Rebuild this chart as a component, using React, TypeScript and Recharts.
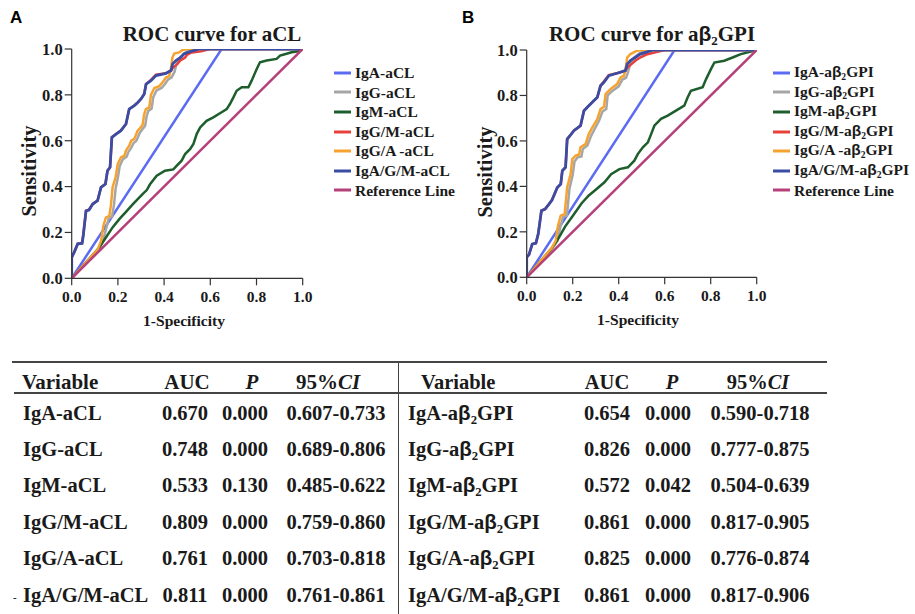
import React from "react";
import { Line, LineChart, XAxis, YAxis } from "recharts";

type Pt = [number, number];

const axisTicks = [0, 0.2, 0.4, 0.6, 0.8, 1.0];

const seriesColors = ["#5c6cf2", "#a6a6a6", "#1d5e2c", "#e8403a", "#f5a230", "#3a4ca3", "#b5407a"];
const aclNames = ["IgA-aCL", "IgG-aCL", "IgM-aCL", "IgG/M-aCL", "IgG/A -aCL", "IgA/G/M-aCL", "Reference Line"];
const gpiPrefixes = ["IgA-a", "IgG-a", "IgM-a", "IgG/M-a", "IgG/A -a", "IgA/G/M-a"];

// ---- panel A: aCL (x = 1-specificity, y = sensitivity)
const aclIgA: Pt[] = [[0, 0], [0.649, 1], [1, 1]];
const aclIgG: Pt[] = [
  [0, 0], [0.115, 0.125], [0.135, 0.16], [0.15, 0.22], [0.16, 0.26], [0.175, 0.27], [0.183, 0.32],
  [0.19, 0.39], [0.2, 0.44], [0.208, 0.49], [0.222, 0.52], [0.238, 0.53], [0.245, 0.55], [0.258, 0.57],
  [0.268, 0.59], [0.28, 0.6], [0.295, 0.635], [0.31, 0.655], [0.318, 0.665], [0.325, 0.71], [0.332, 0.73],
  [0.346, 0.74], [0.353, 0.79], [0.368, 0.82], [0.389, 0.83], [0.403, 0.846], [0.418, 0.868], [0.432, 0.875],
  [0.445, 0.9], [0.455, 0.94], [0.466, 0.96], [0.48, 0.975], [0.5, 0.99], [0.52, 1], [1, 1],
];
const aclIgM: Pt[] = [
  [0, 0], [0.12, 0.135], [0.148, 0.178], [0.177, 0.222], [0.206, 0.258], [0.235, 0.29], [0.264, 0.322],
  [0.29, 0.35], [0.31, 0.37], [0.325, 0.385], [0.339, 0.41], [0.368, 0.447], [0.404, 0.469], [0.44, 0.475],
  [0.455, 0.491], [0.476, 0.513], [0.491, 0.542], [0.513, 0.564], [0.527, 0.586], [0.541, 0.629],
  [0.556, 0.658], [0.584, 0.687], [0.613, 0.702], [0.649, 0.724], [0.671, 0.738], [0.685, 0.76],
  [0.7, 0.789], [0.714, 0.818], [0.736, 0.833], [0.765, 0.833], [0.779, 0.862], [0.801, 0.913],
  [0.815, 0.942], [0.844, 0.95], [0.887, 0.957], [0.902, 0.971], [0.93, 0.979], [0.952, 0.986],
  [0.981, 0.99], [1, 1],
];
const aclIgGM: Pt[] = [
  [0, 0], [0, 0.09], [0.011, 0.114], [0.026, 0.15], [0.045, 0.155], [0.05, 0.19], [0.062, 0.294],
  [0.075, 0.3], [0.091, 0.324], [0.112, 0.339], [0.127, 0.397], [0.146, 0.411], [0.155, 0.469],
  [0.166, 0.484], [0.174, 0.615], [0.192, 0.629], [0.213, 0.644], [0.235, 0.673], [0.249, 0.738],
  [0.271, 0.753], [0.286, 0.767], [0.3, 0.782], [0.314, 0.804], [0.322, 0.847], [0.343, 0.865],
  [0.365, 0.888], [0.408, 0.894], [0.43, 0.906], [0.44, 0.92], [0.458, 0.935], [0.47, 0.95],
  [0.49, 0.962], [0.5, 0.975], [0.52, 0.985], [0.56, 0.99], [0.6, 1], [1, 1],
];
const aclIgGA: Pt[] = [
  [0, 0], [0.112, 0.125], [0.127, 0.163], [0.137, 0.229], [0.148, 0.265], [0.163, 0.272], [0.17, 0.32],
  [0.177, 0.397], [0.19, 0.44], [0.199, 0.498], [0.213, 0.527], [0.228, 0.535], [0.235, 0.557],
  [0.249, 0.578], [0.258, 0.6], [0.271, 0.608], [0.285, 0.643], [0.3, 0.66], [0.307, 0.67],
  [0.314, 0.716], [0.321, 0.738], [0.336, 0.745], [0.343, 0.8], [0.358, 0.83], [0.379, 0.838],
  [0.393, 0.854], [0.408, 0.876], [0.422, 0.882], [0.429, 0.91], [0.436, 0.963], [0.444, 0.98],
  [0.465, 0.985], [0.48, 0.996], [0.5, 1], [1, 1],
];
const aclIgAGM: Pt[] = [
  [0, 0], [0, 0.092], [0.011, 0.114], [0.026, 0.15], [0.045, 0.152], [0.05, 0.185], [0.062, 0.294],
  [0.075, 0.298], [0.091, 0.324], [0.112, 0.339], [0.127, 0.397], [0.146, 0.411], [0.155, 0.469],
  [0.166, 0.484], [0.174, 0.615], [0.192, 0.629], [0.213, 0.644], [0.235, 0.673], [0.249, 0.738],
  [0.271, 0.753], [0.286, 0.767], [0.3, 0.782], [0.314, 0.804], [0.322, 0.847], [0.343, 0.862],
  [0.365, 0.884], [0.408, 0.894], [0.43, 0.906], [0.437, 0.935], [0.451, 0.95], [0.473, 0.964],
  [0.487, 0.979], [0.516, 0.99], [0.538, 0.996], [0.55, 1], [1, 1],
];
const refLine: Pt[] = [[0, 0], [1, 1]];

// ---- panel B: aβ2GPI
const gpiIgA: Pt[] = [[0, 0], [0.643, 1], [1, 1]];
const gpiIgG: Pt[] = [
  [0, 0], [0.114, 0.13], [0.134, 0.16], [0.146, 0.22], [0.158, 0.265], [0.175, 0.272], [0.186, 0.39],
  [0.2, 0.45], [0.208, 0.51], [0.222, 0.528], [0.238, 0.532], [0.244, 0.565], [0.264, 0.58],
  [0.28, 0.622], [0.295, 0.652], [0.315, 0.69], [0.33, 0.73], [0.346, 0.74], [0.352, 0.8],
  [0.372, 0.82], [0.4, 0.84], [0.416, 0.87], [0.432, 0.878], [0.44, 0.9], [0.452, 0.945],
  [0.466, 0.965], [0.49, 0.985], [0.52, 1], [1, 1],
];
const gpiIgM: Pt[] = [
  [0, 0], [0.109, 0.128], [0.14, 0.175], [0.167, 0.223], [0.2, 0.27], [0.239, 0.326], [0.27, 0.36],
  [0.3, 0.385], [0.338, 0.418], [0.367, 0.454], [0.403, 0.476], [0.44, 0.484], [0.468, 0.513],
  [0.483, 0.542], [0.505, 0.572], [0.527, 0.594], [0.541, 0.63], [0.555, 0.667], [0.584, 0.697],
  [0.613, 0.711], [0.649, 0.733], [0.685, 0.755], [0.7, 0.792], [0.714, 0.821], [0.765, 0.836],
  [0.78, 0.872], [0.801, 0.916], [0.816, 0.945], [0.859, 0.953], [0.895, 0.967], [0.931, 0.982],
  [0.975, 0.993], [1, 1],
];
const gpiIgGM: Pt[] = [
  [0, 0], [0, 0.088], [0.01, 0.1], [0.024, 0.146], [0.04, 0.15], [0.05, 0.19], [0.064, 0.293],
  [0.08, 0.3], [0.097, 0.322], [0.11, 0.34], [0.133, 0.395], [0.148, 0.41], [0.155, 0.469],
  [0.169, 0.484], [0.176, 0.608], [0.19, 0.625], [0.205, 0.645], [0.234, 0.667], [0.249, 0.733],
  [0.27, 0.755], [0.285, 0.77], [0.307, 0.792], [0.321, 0.843], [0.336, 0.862], [0.357, 0.89],
  [0.4, 0.9], [0.429, 0.909], [0.44, 0.925], [0.458, 0.94], [0.475, 0.955], [0.495, 0.968],
  [0.52, 0.98], [0.56, 0.99], [0.6, 1], [1, 1],
];
const gpiIgGA: Pt[] = [
  [0, 0], [0.111, 0.132], [0.126, 0.161], [0.136, 0.227], [0.148, 0.271], [0.165, 0.278],
  [0.176, 0.396], [0.191, 0.454], [0.198, 0.52], [0.213, 0.535], [0.228, 0.54], [0.234, 0.572],
  [0.256, 0.586], [0.27, 0.63], [0.285, 0.659], [0.307, 0.696], [0.321, 0.74], [0.336, 0.75],
  [0.343, 0.806], [0.364, 0.828], [0.393, 0.85], [0.408, 0.879], [0.422, 0.886], [0.429, 0.909],
  [0.437, 0.967], [0.451, 0.982], [0.48, 0.997], [0.5, 1], [1, 1],
];
const gpiIgAGM: Pt[] = [
  [0, 0], [0, 0.088], [0.01, 0.1], [0.024, 0.146], [0.04, 0.15], [0.05, 0.19], [0.064, 0.293],
  [0.08, 0.3], [0.097, 0.322], [0.11, 0.34], [0.133, 0.395], [0.148, 0.41], [0.155, 0.469],
  [0.169, 0.484], [0.176, 0.608], [0.19, 0.625], [0.205, 0.645], [0.234, 0.667], [0.249, 0.733],
  [0.27, 0.755], [0.285, 0.77], [0.307, 0.792], [0.321, 0.843], [0.336, 0.858], [0.357, 0.887],
  [0.4, 0.9], [0.429, 0.909], [0.437, 0.938], [0.451, 0.953], [0.473, 0.968], [0.494, 0.982],
  [0.53, 0.994], [0.55, 1], [1, 1],
];

// ---- table
const aclRows = ["IgA-aCL", "IgG-aCL", "IgM-aCL", "IgG/M-aCL", "IgG/A-aCL", "IgA/G/M-aCL"];
const aclAuc = ["0.670", "0.748", "0.533", "0.809", "0.761", "0.811"];
const aclP = ["0.000", "0.000", "0.130", "0.000", "0.000", "0.000"];
const aclCi = ["0.607-0.733", "0.689-0.806", "0.485-0.622", "0.759-0.860", "0.703-0.818", "0.761-0.861"];
const gpiRowPrefixes = ["IgA-a", "IgG-a", "IgM-a", "IgG/M-a", "IgG/A-a", "IgA/G/M-a"];
const gpiAuc = ["0.654", "0.826", "0.572", "0.861", "0.825", "0.861"];
const gpiP = ["0.000", "0.000", "0.042", "0.000", "0.000", "0.000"];
const gpiCi = ["0.590-0.718", "0.777-0.875", "0.504-0.639", "0.817-0.905", "0.776-0.874", "0.817-0.906"];

const serif = "'Liberation Serif', 'Times New Roman', serif";
const sans = "'Liberation Sans', Arial, sans-serif";
const ink = "#1a1a1a";

const toData = (pts: Pt[]) => pts.map(([x, y]) => ({ x, y }));

function Beta2() {
  return (
    <>
      <span style={{ fontFamily: sans, fontWeight: 700 }}>β</span>
      <span style={{ fontSize: "0.62em", position: "relative", top: "0.3em" }}>2</span>
    </>
  );
}

type PanelProps = {
  left: number;
  plot: { l: number; t: number; r: number; b: number };
  lines: Pt[][];
};

function RocPanel({ left, plot, lines }: PanelProps) {
  const W = 455;
  const H = 340;
  const yw = 50;
  const xh = 30;
  const tickStyle = { fontFamily: serif, fontWeight: 700, fill: ink };
  return (
    <div style={{ position: "absolute", left, top: 0 }}>
      <LineChart
        width={W}
        height={H}
        margin={{ top: plot.t, right: W - plot.r, left: plot.l - yw, bottom: H - plot.b - xh }}
      >
        <XAxis
          xAxisId="b"
          dataKey="x"
          type="number"
          domain={[0, 1]}
          ticks={axisTicks}
          tickFormatter={(v: number) => v.toFixed(1)}
          height={xh}
          tickSize={7}
          tickMargin={6}
          stroke="#333"
          strokeWidth={1.2}
          tick={{ ...tickStyle, fontSize: 15.5 }}
          allowDataOverflow
        />
        <XAxis xAxisId="t" orientation="top" type="number" domain={[0, 1]} height={0} tick={false} tickLine={false} stroke="#999" />
        <YAxis
          yAxisId="l"
          type="number"
          domain={[0, 1]}
          ticks={axisTicks}
          tickFormatter={(v: number) => v.toFixed(1)}
          width={yw}
          tickSize={7}
          tickMargin={2}
          stroke="#333"
          strokeWidth={1.2}
          tick={{ ...tickStyle, fontSize: 16.5 }}
          allowDataOverflow
        />
        <YAxis yAxisId="r" orientation="right" type="number" domain={[0, 1]} width={0} tick={false} tickLine={false} stroke="#999" />
        {lines.map((pts, i) => (
          <Line
            key={i}
            xAxisId="b"
            yAxisId="l"
            data={toData(pts)}
            dataKey="y"
            type="linear"
            stroke={seriesColors[i]}
            strokeWidth={i === 5 ? 2.8 : 2.5}
            dot={false}
            activeDot={false}
            isAnimationActive={false}
          />
        ))}
      </LineChart>
    </div>
  );
}

function LegendBox({ left, top, labels }: { left: number; top: number; labels: React.ReactNode[] }) {
  return (
    <div style={{ position: "absolute", left, top }}>
      {labels.map((lab, i) => (
        <div key={i} style={{ display: "flex", alignItems: "center", height: 19.6 }}>
          <svg width={17} height={6} style={{ marginRight: 4 }}>
            <line x1={0} y1={3} x2={17} y2={3} stroke={seriesColors[i]} strokeWidth={3} />
          </svg>
          <span style={{ fontFamily: serif, fontWeight: 700, fontSize: 15.5, color: ink, whiteSpace: "nowrap", lineHeight: "19.6px" }}>
            {lab}
          </span>
        </div>
      ))}
    </div>
  );
}

function Txt({ x, y, w, align = "left", size = 20.5, italic = false, children }: any) {
  const left = align === "center" ? x - w / 2 : x;
  return (
    <div
      style={{
        position: "absolute",
        left,
        top: y - 13,
        width: w,
        height: 26,
        lineHeight: "26px",
        textAlign: align,
        fontFamily: serif,
        fontWeight: 700,
        fontStyle: italic ? "italic" : "normal",
        fontSize: size,
        color: ink,
        whiteSpace: "nowrap",
      }}
    >
      {children}
    </div>
  );
}

const rowY = [413, 449, 485, 522, 558, 595];

export default function App() {
  const gpiLegend = [
    ...gpiPrefixes.map((p) => (
      <>
        {p}
        <Beta2 />
        GPI
      </>
    )),
    "Reference Line",
  ];
  return (
    <div style={{ position: "absolute", left: 0, top: 0, width: 915, height: 614, background: "#fff", overflow: "hidden" }}>
      {/* panel labels and titles */}
      <div style={{ position: "absolute", left: 10, top: 8, fontFamily: sans, fontWeight: 700, fontSize: 17, color: "#000" }}>A</div>
      <div style={{ position: "absolute", left: 462, top: 8, fontFamily: sans, fontWeight: 700, fontSize: 17, color: "#000" }}>B</div>
      <Txt x={212} y={34} w={260} align="center" size={21}>ROC curve for aCL</Txt>
      <Txt x={652} y={34} w={260} align="center" size={21}>
        ROC curve for a<Beta2 />GPI
      </Txt>

      <RocPanel left={0} plot={{ l: 71.7, t: 49, r: 302.7, b: 278.3 }} lines={[aclIgA, aclIgG, aclIgM, aclIgGM, aclIgGA, aclIgAGM, refLine]} />
      <RocPanel left={460} plot={{ l: 66.7, t: 50, r: 296.7, b: 277.3 }} lines={[gpiIgA, gpiIgG, gpiIgM, gpiIgGM, gpiIgGA, gpiIgAGM, refLine]} />

      {/* axis titles */}
      <div style={{ position: "absolute", left: 29, top: 171, transform: "translate(-50%, -50%) rotate(-90deg)", fontFamily: serif, fontWeight: 700, fontSize: 20.5, color: ink, whiteSpace: "nowrap" }}>Sensitivity</div>
      <div style={{ position: "absolute", left: 485, top: 172, transform: "translate(-50%, -50%) rotate(-90deg)", fontFamily: serif, fontWeight: 700, fontSize: 20.5, color: ink, whiteSpace: "nowrap" }}>Sensitivity</div>
      <Txt x={184} y={321} w={140} align="center" size={15.5}>1-Specificity</Txt>
      <Txt x={638} y={320} w={140} align="center" size={15.5}>1-Specificity</Txt>

      <LegendBox left={334} top={63} labels={aclNames} />
      <LegendBox left={773} top={63} labels={gpiLegend} />

      {/* table rules */}
      <div style={{ position: "absolute", left: 12, top: 361, width: 815, height: 2, background: "#444" }} />
      <div style={{ position: "absolute", left: 14, top: 392, width: 813, height: 1.5, background: "#444" }} />
      <div style={{ position: "absolute", left: 397.5, top: 362, width: 1.5, height: 252, background: "#444" }} />

      {/* left table */}
      <Txt x={22} y={382} w={120} size={21}>Variable</Txt>
      <Txt x={187} y={382} w={60} align="center" size={21}>AUC</Txt>
      <Txt x={252} y={382} w={30} align="center" size={21} italic>P</Txt>
      <Txt x={328} y={382} w={110} align="center" size={21}>
        95%<i>CI</i>
      </Txt>
      {aclRows.map((r, i) => (
        <React.Fragment key={r}>
          <Txt x={23} y={rowY[i]} w={140}>{r}</Txt>
          <Txt x={185} y={rowY[i]} w={60} align="center">{aclAuc[i]}</Txt>
          <Txt x={245} y={rowY[i]} w={60} align="center">{aclP[i]}</Txt>
          <Txt x={336} y={rowY[i]} w={120} align="center">{aclCi[i]}</Txt>
        </React.Fragment>
      ))}
      <Txt x={13} y={597} w={8} size={11}>-</Txt>

      {/* right table */}
      <Txt x={421} y={382} w={120} size={20.5}>Variable</Txt>
      <Txt x={607} y={382} w={60} align="center" size={20.5}>AUC</Txt>
      <Txt x={672} y={382} w={30} align="center" size={20.5} italic>P</Txt>
      <Txt x={758} y={382} w={110} align="center" size={20.5}>
        95%<i>CI</i>
      </Txt>
      {gpiRowPrefixes.map((p, i) => (
        <React.Fragment key={p}>
          <Txt x={408} y={rowY[i]} w={180}>
            {p}
            <Beta2 />
            GPI
          </Txt>
          <Txt x={607} y={rowY[i]} w={60} align="center">{gpiAuc[i]}</Txt>
          <Txt x={668} y={rowY[i]} w={60} align="center">{gpiP[i]}</Txt>
          <Txt x={760} y={rowY[i]} w={120} align="center">{gpiCi[i]}</Txt>
        </React.Fragment>
      ))}
    </div>
  );
}
